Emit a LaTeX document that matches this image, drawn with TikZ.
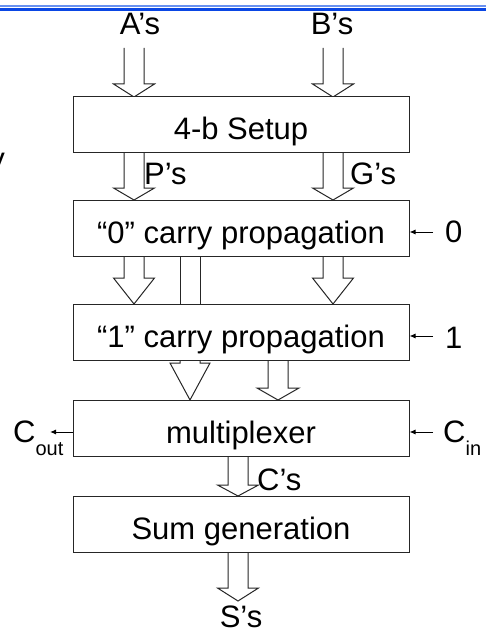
\documentclass[tikz,border=0pt]{standalone}
\usepackage{fontspec}
\setmainfont{Liberation Sans}
\usetikzlibrary{arrows.meta}

\definecolor{rulelight}{RGB}{105,145,240}
\definecolor{ruledark}{RGB}{10,70,228}

% hollow block arrow: x centre, start y, tip y, head length, half head width
\newcommand\blockarrow[5]{%
  \draw[blockline] (#1-10,#2) -- (#1-10,#3-#4) -- (#1-#5,#3-#4) -- (#1,#3)
    -- (#1+#5,#3-#4) -- (#1+10,#3-#4) -- (#1+10,#2);}
% lowered subscript
\newcommand\lowsub[1]{\raisebox{-13pt}{\fontsize{20}{24}\selectfont #1}}

\begin{document}
\begin{tikzpicture}[x=1pt,y=-1pt,
  blockline/.style={draw=black!85,line width=1pt,fill=white,line join=miter},
  stage/.style={draw=black!85,line width=1pt,fill=white,minimum width=336pt,
    minimum height=56pt,inner sep=0pt,text height=30pt,text depth=0pt,
    font=\fontsize{31}{37}\selectfont},
  lbl/.style={inner sep=0pt,font=\fontsize{31}{37}\selectfont},
  sig/.style={draw=black,line width=1pt,-{Latex[length=6pt,width=5pt]}}]
\useasboundingbox (0,0) rectangle (486,631);

% title rule
\fill[rulelight] (0,5) rectangle (486,6.6);
\fill[ruledark] (0,7.6) rectangle (486,11);

% cut-off letter at the left edge
\node[lbl,anchor=base east] at (5,169) {y};

% block arrows between the stages
\blockarrow{134}{48}{97}{13}{20.5}
\blockarrow{333}{48}{97}{13}{20.5}
\blockarrow{134}{152}{200}{12}{20.5}
\blockarrow{333}{152}{200}{12}{20.5}
\blockarrow{134}{256}{304}{26}{20.5}
\blockarrow{333}{256}{304}{26}{20.5}
\draw[blockline] (180,256) rectangle (200,304);
\blockarrow{190}{359}{400}{37}{20}
\blockarrow{278}{359}{400}{12}{21}
\blockarrow{238}{456}{496}{11}{20.5}
\blockarrow{238}{552}{601}{13}{20.5}

% stages
\node[stage] (setup) at (241,125) {4-b Setup};
\node[stage] (cp0) at (241,228) {“0” carry propagation};
\node[stage] (cp1) at (241,332) {“1” carry propagation};
\node[stage] (mux) at (241,428) {multiplexer};
\node[stage] (sum) at (241,524) {Sum generation};

% bus labels
\node[lbl,anchor=base] (as) at (140,35) {A’s};
\node[lbl,anchor=base] (bs) at (332,35) {B’s};
\node[lbl,anchor=base west] (ps) at (144,185) {P’s};
\node[lbl,anchor=base west] (gs) at (350,185) {G’s};
\node[lbl,anchor=base west] (cs) at (257,490) {C’s};
\node[lbl,anchor=base] (ss) at (241,627) {S’s};

% carry inputs and output
\node[lbl,anchor=base west] (zero) at (445,242) {0};
\node[lbl,anchor=base west] (one) at (445,348) {1};
\node[lbl,anchor=base west] (cin) at (443,442) {C\lowsub{in}};
\node[lbl,anchor=base west] (cout) at (13,442) {C\lowsub{out}};
\coordinate (zeroin) at (433,232);
\coordinate (onein) at (433,336);
\coordinate (cinin) at (433,432);
\coordinate (coutend) at (50,432);

\draw[sig] (zeroin) -- (zeroin -| cp0.east);
\draw[sig] (onein) -- (onein -| cp1.east);
\draw[sig] (cinin) -- (cinin -| mux.east);
\draw[sig] (coutend -| mux.west) -- (coutend);
\end{tikzpicture}
\end{document}
